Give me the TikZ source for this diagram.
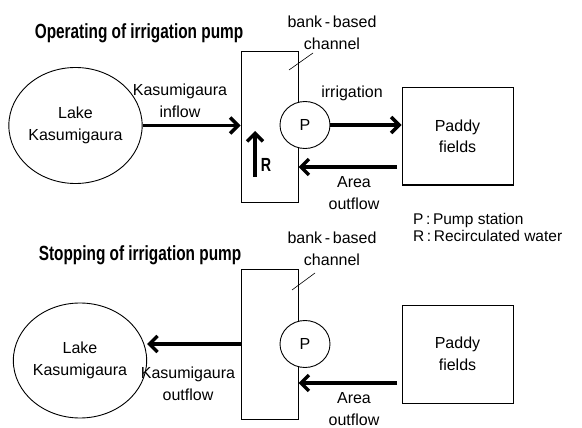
\documentclass[tikz,border=0pt]{standalone}
\usepackage{fontspec}
\setmainfont{Liberation Sans}
\newfontfamily\titlefont[FakeStretch=0.75]{Liberation Sans Bold}
\usetikzlibrary{shapes.geometric,arrows.meta}
\newcommand{\lblfont}{\fontsize{16}{21.5}\selectfont}
\newcommand{\legfont}{\fontsize{15.5}{15}\selectfont}
\newcommand{\ttlfont}{\titlefont\fontsize{20.5}{22}\selectfont}
\tikzset{
  lbl/.style={font=\lblfont, align=center, inner sep=0pt},
  ttl/.style={font=\ttlfont, inner sep=0pt},
  leg/.style={font=\legfont, anchor=west, inner sep=0pt},
  lake/.style={ellipse, draw, line width=0.9pt, font=\lblfont, align=center, inner sep=0pt},
  pump/.style={ellipse, draw, fill=white, line width=0.9pt, minimum width=50pt, minimum height=47pt, font=\lblfont, inner sep=0pt},
  chan/.style={rectangle, draw, line width=1pt, minimum width=57pt, minimum height=150pt, inner sep=0pt},
  paddy/.style={rectangle, draw, line width=1pt, minimum width=111pt, minimum height=97pt, font=\lblfont, align=center, inner sep=0pt},
  flow/.style={line width=3.4pt, -{Straight Barb[length=8pt,width=16pt]}},
  lead/.style={line width=0.6pt},
}
\begin{document}
\begin{tikzpicture}[x=1pt,y=-1pt]
\useasboundingbox (0,0) rectangle (582,428);
% ---------- top: operating ----------
\node[ttl] (t1) at (139,33) {Operating of irrigation pump};
\node[lake, minimum width=123pt, minimum height=116pt] (lake1) at (75.5,125.5) {Lake\\Kasumigaura};
\node[chan] (ch1) at (269.5,127) {};
\node[pump] (P1) at (305,125) {P};
\node[paddy] (paddy1) at (457.5,136.5) {Paddy\\fields};
\node[lbl] (kin) at (180,101) {Kasumigaura\\inflow};
\node[lbl] (irr) at (352,93) {irrigation};
\node[lbl] (ao1l) at (354,193) {Area\\outflow};
\node[lbl] (bb1) at (332,33) {bank\,-\,based\\channel};
\node[font=\titlefont\fontsize{19}{20}\selectfont, inner sep=0pt] (Rl) at (266,165) {R};
\node[leg] (legP) at (413,220) {P\,:\,Pump station};
\node[leg] (legR) at (413,236) {R\,:\,Recirculated water};
\coordinate (ld1a) at (313,53);
\coordinate (ld1b) at (289,70);
\coordinate (R1a) at (255,177);
\coordinate (R1b) at (255,131);
\coordinate (ao1) at (397,167);
\draw[lead] (ld1a) -- (ld1b);
\draw[flow] (lake1.east) -- (lake1.east -| ch1.west);
\draw[flow] (P1.east) -- (P1.east -| paddy1.west);
\draw[flow] (ao1) -- (ao1 -| ch1.east);
\draw[flow] (R1a) -- (R1b);
% ---------- bottom: stopping ----------
\node[ttl] (t2) at (140,255) {Stopping of irrigation pump};
\node[lake, minimum width=116pt, minimum height=115pt] (lake2) at (80,360.5) {Lake\\Kasumigaura};
\node[chan] (ch2) at (269.5,344) {};
\node[pump] (P2) at (305,344) {P};
\node[paddy, minimum height=98pt] (paddy2) at (457.5,354) {Paddy\\fields};
\node[lbl] (kout) at (188,384) {Kasumigaura\\outflow};
\node[lbl] (ao2l) at (354,409) {Area\\outflow};
\node[lbl] (bb2) at (332,249) {bank\,-\,based\\channel};
\coordinate (ld2a) at (315,273);
\coordinate (ld2b) at (292,290);
\coordinate (ao2) at (397,383);
\draw[lead] (ld2a) -- (ld2b);
\draw[flow] (ch2.west) -- (ch2.west -| lake2.east);
\draw[flow] (ao2) -- (ao2 -| ch2.east);
\end{tikzpicture}
\end{document}
